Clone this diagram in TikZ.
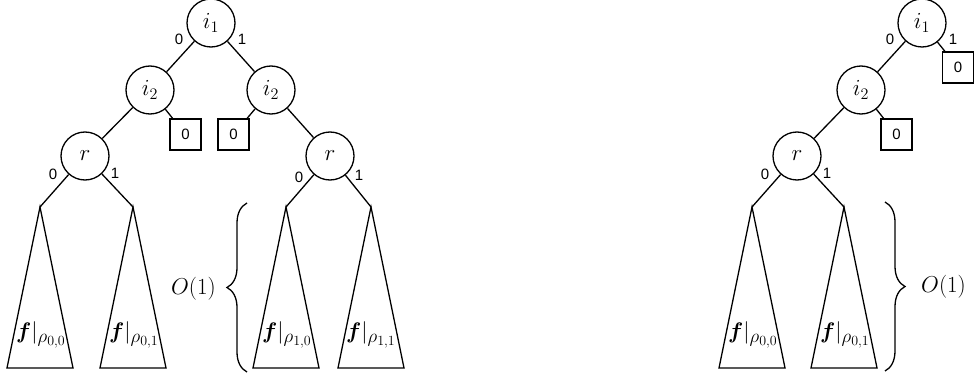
\RequirePackage{fix-cm}
\documentclass[tikz,border=0pt]{standalone}
\usepackage{amsmath,amssymb}
\usepackage{fontspec}
\newfontfamily\labfont{Liberation Sans}
\DeclareMathSizes{22.5}{22.5}{19}{14}
\usetikzlibrary{decorations.pathreplacing}
\tikzset{
  vnode/.style={circle,draw,line width=1.3pt,minimum size=48pt,inner sep=0pt,font=\fontsize{23}{27}\selectfont},
  leaf/.style={rectangle,draw,line width=1.3pt,minimum size=31pt,inner sep=0pt,font=\labfont\fontsize{15}{17}\selectfont},
  elab/.style={font=\labfont\fontsize{15}{17}\selectfont,inner sep=0pt},
  conn/.style={line width=1.3pt},
  tri/.style={line width=1.3pt,line join=miter},
  flab/.style={font=\fontsize{22.5}{27}\selectfont,inner sep=0pt},
  bigtxt/.style={font=\fontsize{23}{28}\selectfont,inner sep=0pt},
  brc/.style={decorate,decoration={brace,amplitude=20pt},line width=1.3pt},
}
\begin{document}
\begin{tikzpicture}[x=1pt,y=-1pt]
\useasboundingbox (0,0) rectangle (974,377);
% ---------- left diagram ----------
\node[vnode] (Li1) at (211,23) {$i_1$};
\node[vnode] (Li2a) at (150,90) {$i_2$};
\node[vnode] (Li2b) at (271,90) {$i_2$};
\node[vnode] (Lra) at (85,156) {$r$};
\node[vnode] (Lrb) at (330,156) {$r$};
\node[leaf] (Lb1) at (185.5,134.5) {0};
\node[leaf] (Lb2) at (233.5,134.5) {0};
\coordinate (Lt1) at (40,207);
\coordinate (Lt2) at (133,207);
\coordinate (Lt3) at (286,207);
\coordinate (Lt4) at (371,207);
\draw[conn] (Li1) -- (Li2a);
\draw[conn] (Li1) -- (Li2b);
\draw[conn] (Li2a) -- (Lra);
\draw[conn] (Li2a) -- (Lb1);
\draw[conn] (Li2b) -- (Lb2);
\draw[conn] (Li2b) -- (Lrb);
\draw[conn] (Lra) -- (Lt1);
\draw[conn] (Lra) -- (Lt2);
\draw[conn] (Lrb) -- (Lt3);
\draw[conn] (Lrb) -- (Lt4);
\foreach \t in {Lt1,Lt2,Lt3,Lt4}
  \draw[tri] (\t) -- ++(-33,161) -- ++(66,0) -- cycle;
\node[elab] (Ll1) at (179,39) {0};
\node[elab] (Ll2) at (242,39) {1};
\node[elab] (Ll3) at (53,174) {0};
\node[elab] (Ll4) at (115,173) {1};
\node[elab] (Ll5) at (299,177) {0};
\node[elab] (Ll6) at (359,175) {1};
\node[flab] (Lf1) at (41,335) {$\boldsymbol{f}|_{\rho_{0,0}}$};
\node[flab] (Lf2) at (134,335) {$\boldsymbol{f}|_{\rho_{0,1}}$};
\node[flab] (Lf3) at (287,335) {$\boldsymbol{f}|_{\rho_{1,0}}$};
\node[flab] (Lf4) at (371,335) {$\boldsymbol{f}|_{\rho_{1,1}}$};
\coordinate (Lbrb) at (247,372);
\coordinate (Lbrt) at (247,203);
\draw[brc] (Lbrb) -- (Lbrt);
\node[bigtxt,anchor=east] (LO) at (216,289) {$O(1)$};
% ---------- right diagram ----------
\node[vnode] (Ri1) at (922,23) {$i_1$};
\node[vnode] (Ri2) at (861,90) {$i_2$};
\node[vnode] (Rr) at (797,156) {$r$};
\node[leaf] (Rb1) at (958,67.5) {0};
\node[leaf] (Rb2) at (896.5,134.5) {0};
\coordinate (Rt1) at (752,207);
\coordinate (Rt2) at (844,207);
\draw[conn] (Ri1) -- (Ri2);
\draw[conn] (Ri1) -- (Rb1);
\draw[conn] (Ri2) -- (Rr);
\draw[conn] (Ri2) -- (Rb2);
\draw[conn] (Rr) -- (Rt1);
\draw[conn] (Rr) -- (Rt2);
\foreach \t in {Rt1,Rt2}
  \draw[tri] (\t) -- ++(-33,161) -- ++(66,0) -- cycle;
\node[elab] (Rl1) at (890,39) {0};
\node[elab] (Rl2) at (953,39) {1};
\node[elab] (Rl3) at (765,174) {0};
\node[elab] (Rl4) at (827,173) {1};
\node[flab] (Rf1) at (753,335) {$\boldsymbol{f}|_{\rho_{0,0}}$};
\node[flab] (Rf2) at (845,335) {$\boldsymbol{f}|_{\rho_{0,1}}$};
\coordinate (Rbrt) at (885,202);
\coordinate (Rbrb) at (885,371);
\draw[brc] (Rbrt) -- (Rbrb);
\node[bigtxt,anchor=west] (RO) at (921,287) {$O(1)$};
\end{tikzpicture}
\end{document}
